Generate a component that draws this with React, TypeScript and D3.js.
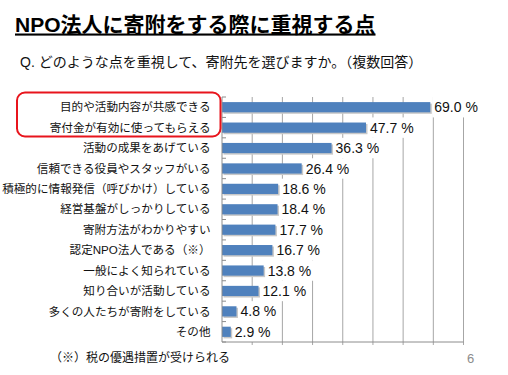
import * as d3 from 'd3';
import React, { useEffect, useRef } from 'react';

const categories = [
  '目的や活動内容が共感できる',
  '寄付金が有効に使ってもらえる',
  '活動の成果をあげている',
  '信頼できる役員やスタッフがいる',
  '積極的に情報発信（呼びかけ）している',
  '経営基盤がしっかりしている',
  '寄附方法がわかりやすい',
  '認定NPO法人である（※）',
  '一般によく知られている',
  '知り合いが活動している',
  '多くの人たちが寄附をしている',
  'その他',
];
const values = [69.0, 47.7, 36.3, 26.4, 18.6, 18.4, 17.7, 16.7, 13.8, 12.1, 4.8, 2.9];
const gridTicks = [10, 20, 30, 40, 50, 60, 70, 80];

const FONT = '"Liberation Sans", Arial, "Noto Sans CJK JP", sans-serif';

const App = () => {
  const ref = useRef<SVGSVGElement>(null);

  useEffect(() => {
    const svg = d3.select(ref.current);
    svg.selectAll('*').remove();

    const left = 222, right = 463.5, top = 97, bottom = 342;

    const x = d3.scaleLinear().domain([0, 80]).range([left, right]);
    const y = d3.scaleBand<number>()
      .domain(d3.range(categories.length))
      .range([top, bottom])
      .paddingInner(0.5)
      .paddingOuter(0.25);
    const step = y.step();

    // title
    svg.append('text')
      .attr('x', 15).attr('y', 31.5)
      .attr('font-family', FONT)
      .attr('font-size', 21)
      .attr('font-weight', 'bold')
      .attr('text-decoration', 'underline')
      .text('NPO法人に寄附をする際に重視する点');

    svg.append('text')
      .attr('x', 20).attr('y', 67)
      .attr('font-family', FONT)
      .attr('font-size', 14)
      .attr('fill', '#111')
      .text('Q. どのような点を重視して、寄附先を選びますか。（複数回答）');

    // gridlines
    svg.append('g')
      .selectAll('line')
      .data(gridTicks)
      .enter()
      .append('line')
      .attr('x1', d => x(d)).attr('x2', d => x(d))
      .attr('y1', top).attr('y2', bottom)
      .attr('stroke', '#a6a6a6')
      .attr('stroke-width', 1);

    // bottom ticks
    svg.append('g')
      .selectAll('line')
      .data(gridTicks)
      .enter()
      .append('line')
      .attr('x1', d => x(d)).attr('x2', d => x(d))
      .attr('y1', bottom).attr('y2', bottom + 3)
      .attr('stroke', '#a6a6a6');

    // bars with shadow
    const rows = svg.append('g')
      .selectAll('g')
      .data(values)
      .enter()
      .append('g');

    rows.append('rect')
      .attr('x', x(0) + 1.5)
      .attr('y', (d, i) => y(i)! + 1.5)
      .attr('width', d => x(d) - x(0))
      .attr('height', y.bandwidth())
      .attr('fill', '#c8c8c8');

    rows.append('rect')
      .attr('x', x(0))
      .attr('y', (d, i) => y(i)!)
      .attr('width', d => x(d) - x(0))
      .attr('height', y.bandwidth())
      .attr('fill', '#4f81bd');

    // value labels with white boxes
    const lbl = rows.append('g')
      .attr('transform', (d, i) => `translate(${x(d) + 4},${y(i)! + y.bandwidth() / 2})`);
    lbl.append('text')
      .attr('x', 0)
      .attr('dy', '0.36em')
      .attr('font-family', FONT)
      .attr('font-size', 14)
      .attr('fill', '#111')
      .text(d => d.toFixed(1) + ' %');
    lbl.each(function () {
      const g = d3.select(this);
      const t = g.select('text').node() as SVGTextElement;
      const w = t.getComputedTextLength();
      g.insert('rect', 'text')
        .attr('x', -2).attr('y', -step / 2)
        .attr('width', w + 5).attr('height', step)
        .attr('fill', '#fff');
    });

    // category labels
    svg.append('g')
      .selectAll('text')
      .data(categories)
      .enter()
      .append('text')
      .attr('x', 210.5)
      .attr('y', (d, i) => y(i)! + y.bandwidth() / 2)
      .attr('dy', '0.36em')
      .attr('text-anchor', 'end')
      .attr('font-family', FONT)
      .attr('font-size', 11.6)
      .attr('fill', '#111')
      .text(d => d);

    // axes
    svg.append('line')
      .attr('x1', left).attr('x2', left)
      .attr('y1', top).attr('y2', bottom)
      .attr('stroke', '#8c8c8c');
    svg.append('line')
      .attr('x1', left).attr('x2', right)
      .attr('y1', bottom).attr('y2', bottom)
      .attr('stroke', '#8c8c8c');
    svg.append('g')
      .selectAll('line')
      .data(d3.range(categories.length + 1))
      .enter()
      .append('line')
      .attr('x1', left).attr('x2', left + 4)
      .attr('y1', i => top + i * step).attr('y2', i => top + i * step)
      .attr('stroke', '#8c8c8c');

    // highlight box
    svg.append('rect')
      .attr('x', 17).attr('y', 92.5)
      .attr('width', 203.5).attr('height', 44)
      .attr('rx', 8)
      .attr('fill', 'none')
      .attr('stroke', '#e8141c')
      .attr('stroke-width', 2);

    // footnote
    svg.append('text')
      .attr('x', 50).attr('y', 362)
      .attr('font-family', FONT)
      .attr('font-size', 12)
      .attr('fill', '#111')
      .text('（※）税の優遇措置が受けられる');

    svg.append('text')
      .attr('x', 467).attr('y', 362.5)
      .attr('font-family', FONT)
      .attr('font-size', 13)
      .attr('fill', '#8c8c8c')
      .text('6');
  }, []);

  return (
    <svg
      ref={ref}
      width={508}
      height={375}
      style={{ position: 'absolute', left: 0, top: 0, background: '#fff' }}
    ></svg>
  );
};

export default App;
